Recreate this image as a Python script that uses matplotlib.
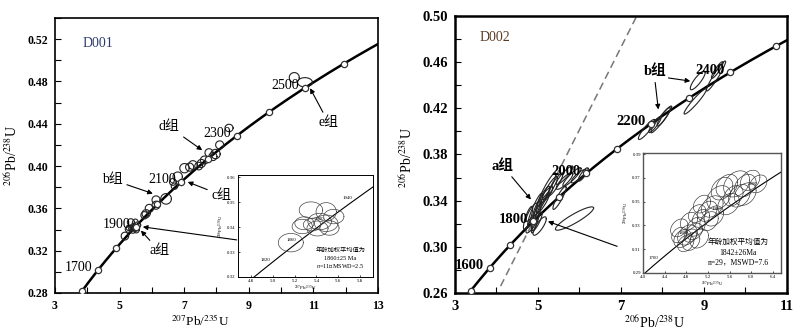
import numpy as np
import matplotlib
matplotlib.use('Agg')
import matplotlib.pyplot as plt
from matplotlib.ticker import MultipleLocator, FormatStrFormatter

plt.rcParams['font.family'] = ['Liberation Serif', 'Noto Sans CJK SC']
plt.rcParams['mathtext.fontset'] = 'stix'

# U decay constants (1/yr)
L238 = 1.55125e-10
L235 = 9.8485e-10

# ---- D001 -------------------------------------------------------------
d1_ticks = [1600, 1700, 1800, 1900, 2000, 2100, 2200, 2300, 2400, 2500, 2600]
d1_agelabels = [1700, 1900, 2100, 2300, 2500]
# spot ellipses, 207Pb/235U and 206Pb/238U (centre, half-width, half-height)
d1_x = [10.41, 10.74, 8.39, 8.10, 7.77, 7.97, 7.89, 7.63, 7.53, 7.27, 7.17,
        7.01, 6.80, 6.65, 6.44, 6.13, 6.13, 5.92, 5.82, 5.77, 6.70, 7.45]
d1_y = [0.4837, 0.4792, 0.436, 0.420, 0.4126, 0.4114, 0.409, 0.4057, 0.4025,
        0.401, 0.399, 0.398, 0.390, 0.385, 0.369, 0.368, 0.363, 0.360, 0.355,
        0.3535, 0.381, 0.400]
d1_sx = [0.155, 0.23, 0.125, 0.125, 0.125, 0.145, 0.125, 0.125, 0.125, 0.135,
         0.125, 0.145, 0.145, 0.105, 0.165, 0.125, 0.125, 0.125, 0.125, 0.11,
         0.10, 0.12]
d1_sy = [0.0047, 0.0044, 0.0035, 0.0038, 0.0038, 0.0044, 0.0038, 0.0038,
         0.0038, 0.0041, 0.0038, 0.0044, 0.0044, 0.0032, 0.005, 0.0038, 0.0038,
         0.0038, 0.0038, 0.0034, 0.003, 0.0036]
# group a (weighted mean 1860 Ma)
d1a_x = [5.165, 5.35, 5.49, 5.56, 5.43, 5.29, 5.27, 5.36, 5.49, 5.52, 5.41]
d1a_y = [0.3338, 0.3469, 0.3462, 0.3443, 0.3423, 0.3416, 0.3403, 0.3410,
         0.3416, 0.3397, 0.3395]
d1a_sx = [0.115, 0.108, 0.093, 0.093, 0.108, 0.088, 0.093, 0.080, 0.108,
          0.088, 0.097]
d1a_sy = [0.0037, 0.0033, 0.0037, 0.0029, 0.0033, 0.0026, 0.0029, 0.0025,
          0.0033, 0.0029, 0.0030]
d1_inset_ages = [1820, 1860, 1900, 1940]

# group labels: text, text position, arrow tip
d1_groups = ['e组', 'd组', 'b组', 'c组', 'a组']
d1_group_xy = [(11.47, 0.441), (6.54, 0.437), (4.78, 0.387), (8.15, 0.3725),
               (6.23, 0.320)]
d1_group_tip = [(10.90, 0.4736), (7.56, 0.415), (6.03, 0.374), (7.11, 0.385),
                (5.66, 0.339)]

# ---- D002 -------------------------------------------------------------
d2_ticks = [1500, 1600, 1700, 1800, 1900, 2000, 2100, 2200, 2300, 2400, 2500]
d2_agelabels = [1600, 1800, 2000, 2200, 2400]
d2_x = [8.85, 9.29, 9.32, 8.79, 7.97, 8.03, 7.62, 4.76, 4.96, 5.04, 4.93, 5.08,
        5.21, 4.87, 5.20, 5.29, 5.52, 5.64, 5.82, 5.98, 6.09, 5.42, 5.64, 5.88,
        4.85, 5.12, 4.98, 7.82]
d2_y = [0.4442, 0.448, 0.4532, 0.426, 0.4104, 0.4127, 0.4017, 0.325, 0.3265,
        0.318, 0.332, 0.3395, 0.3497, 0.3207, 0.345, 0.351, 0.3424, 0.357,
        0.3606, 0.3612, 0.3627, 0.354, 0.362, 0.3245, 0.330, 0.338, 0.322,
        0.406]
d2_sx = [0.18, 0.23, 0.14, 0.27, 0.25, 0.16, 0.20, 0.11, 0.12, 0.16, 0.18, 0.20,
         0.22, 0.16, 0.16, 0.18, 0.16, 0.20, 0.22, 0.18, 0.12, 0.18, 0.20, 0.46,
         0.14, 0.16, 0.12, 0.15]
d2_sy = [0.0081, 0.013, 0.0072, 0.011, 0.0116, 0.008, 0.0087, 0.010, 0.0145,
         0.008, 0.0145, 0.013, 0.0145, 0.0087, 0.0072, 0.010, 0.010, 0.0072,
         0.008, 0.0058, 0.0058, 0.010, 0.008, 0.0101, 0.008, 0.009, 0.008,
         0.007]
d2_rho = [0.85, 0.95, 0.9, 0.95, 0.95, 0.9, 0.9, 0.8, 0.85, 0.8, 0.9, 0.92,
          0.93, 0.85, 0.85, 0.9, 0.9, 0.85, 0.9, 0.85, 0.85, 0.9, 0.9, 0.9,
          0.85, 0.9, 0.85, 0.9]
# inset spots (n=29)
d2i_x = [4.82, 4.67, 4.98, 5.07, 5.19, 5.28, 5.40, 5.09, 5.46, 5.73, 5.89,
         5.98, 6.13, 5.89, 5.67, 5.58, 4.89, 4.73, 5.04, 4.85, 4.67, 4.95,
         4.79, 5.22, 5.31, 5.00, 5.78, 5.55, 4.88]
d2i_y = [0.322, 0.328, 0.329, 0.336, 0.342, 0.346, 0.3535, 0.348, 0.361, 0.365,
         0.3635, 0.368, 0.365, 0.3564, 0.355, 0.348, 0.3165, 0.319, 0.319,
         0.3336, 0.322, 0.325, 0.315, 0.3336, 0.338, 0.340, 0.355, 0.3635,
         0.3215]
d2i_sx = [0.18, 0.16, 0.17, 0.16, 0.18, 0.20, 0.22, 0.16, 0.20, 0.24, 0.20,
          0.18, 0.16, 0.20, 0.18, 0.20, 0.16, 0.16, 0.17, 0.16, 0.14, 0.15,
          0.15, 0.17, 0.18, 0.16, 0.20, 0.20, 0.12]
d2i_sy = [0.0085, 0.0075, 0.008, 0.0075, 0.0085, 0.009, 0.010, 0.0075, 0.0095,
          0.011, 0.0095, 0.0085, 0.0075, 0.0095, 0.0085, 0.009, 0.0075, 0.0075,
          0.008, 0.0075, 0.0065, 0.007, 0.007, 0.008, 0.0085, 0.0075, 0.0095,
          0.0095, 0.0055]
d2_inset_ages = [1700, 1800, 1900, 2000]
# reference line (dashed)
d2_line_x = [4.10, 7.38]
d2_line_y = [0.266, 0.500]

d2_a_xy, d2_a_tip = (4.15, 0.370), (4.83, 0.341)
d2_b_xy = (7.82, 0.452)
d2_b_tails = [(8.11, 0.4465), (7.82, 0.4436)]
d2_b_tips = [(8.67, 0.4436), (7.90, 0.419)]


def concordia(t_ma):
    t = np.asarray(t_ma, dtype=float) * 1e6
    return np.exp(L235 * t) - 1, np.exp(L238 * t) - 1


def ellipse(ax, cx, cy, sx, sy, rho=0.0, lw=0.8, color='#222222'):
    th = np.linspace(0, 2 * np.pi, 90)
    ex = cx + sx * np.cos(th)
    ey = cy + sy * (rho * np.cos(th) + np.sqrt(1 - rho ** 2) * np.sin(th))
    ax.plot(ex, ey, color=color, lw=lw, zorder=3)


def style_main(ax, lw, size, weight, xticks, yticks):
    for s in ax.spines.values():
        s.set_linewidth(lw)
    ax.set_xticks(xticks)
    ax.set_yticks(yticks)
    ax.xaxis.set_minor_locator(MultipleLocator(1))
    ax.yaxis.set_minor_locator(MultipleLocator(0.02))
    ax.xaxis.set_major_formatter(FormatStrFormatter('%d'))
    ax.yaxis.set_major_formatter(FormatStrFormatter('%.2f'))
    ax.tick_params(which='both', direction='in', length=4, width=0.8,
                   labelsize=size, pad=5)
    for lab in ax.get_xticklabels() + ax.get_yticklabels():
        lab.set_fontweight(weight)


def style_inset(ax, xticks, yticks):
    for s in ax.spines.values():
        s.set_linewidth(0.7)
    ax.set_xticks(xticks)
    ax.set_yticks(yticks)
    ax.xaxis.set_major_formatter(FormatStrFormatter('%.1f'))
    ax.yaxis.set_major_formatter(FormatStrFormatter('%.2f'))
    ax.tick_params(direction='in', length=1.5, width=0.5, labelsize=3.5, pad=1.5)


arrow = dict(arrowstyle='-|>', color='black', lw=0.8, mutation_scale=7,
             shrinkA=1, shrinkB=0)

fig = plt.figure(figsize=(8.06, 3.32), dpi=100)

# ================= D001 =================
ax1 = fig.add_axes([0.0682, 0.1175, 0.4007, 0.8283])
ax1.set_xlim(3, 13)
ax1.set_ylim(0.28, 0.54)

cx, cy = concordia(np.linspace(1600, 2750, 300))
ax1.plot(cx, cy, color='black', lw=1.8, zorder=2)
mx, my = concordia(d1_ticks)
ax1.plot(mx, my, 'o', ms=4.5, mfc='white', mec='#333333', mew=0.9, zorder=4)
for age in d1_agelabels:
    px, py = concordia(age)
    ax1.annotate(str(age), (px, py), xytext=(-4, 1.5), textcoords='offset points',
                 ha='right', va='center', fontsize=10, zorder=5)

for i in range(len(d1_x)):
    ellipse(ax1, d1_x[i], d1_y[i], d1_sx[i], d1_sy[i], lw=0.8)
for i in range(len(d1a_x)):
    ellipse(ax1, d1a_x[i], d1a_y[i], d1a_sx[i], d1a_sy[i], lw=0.8)

for name, txy, tip in zip(d1_groups, d1_group_xy, d1_group_tip):
    ax1.annotate(name, tip, xytext=txy, ha='center', va='center', fontsize=10,
                 arrowprops=arrow)
ax1.annotate('', (5.72, 0.3425), xytext=(8.67, 0.330), arrowprops=arrow)

ax1.text(4.32, 0.516, 'D001', fontsize=10, color='#2c3a6e', ha='center',
         va='center')
ax1.set_xlabel('$^{207}$Pb/$^{235}$U', fontsize=9.5)
ax1.xaxis.set_label_coords(0.45, -0.075)
ax1.set_ylabel('$^{206}$Pb/$^{238}$U', fontsize=10)
ax1.yaxis.set_label_coords(-0.108, 0.5)
style_main(ax1, 1.2, 8.5, 'bold', np.arange(3, 14, 2),
           np.arange(0.28, 0.53, 0.04))

# inset D001
in1 = fig.add_axes([238 / 806, 1 - 277 / 332, 135 / 806, 102 / 332])
in1.set_xlim(4.68, 5.92)
in1.set_ylim(0.32, 0.361)
ix, iy = concordia(np.linspace(1750, 2000, 200))
in1.plot(ix, iy, color='black', lw=0.8)
for age in d1_inset_ages:
    px, py = concordia(age)
    in1.annotate(str(age), (px, py), xytext=(-2, 1), textcoords='offset points',
                 ha='right', va='center', fontsize=3.5)
for i in range(len(d1a_x)):
    ellipse(in1, d1a_x[i], d1a_y[i], d1a_sx[i], d1a_sy[i], lw=0.5,
            color='#444444')
in1.text(0.76, 0.265, '年龄加权平均值为', transform=in1.transAxes,
         fontsize=4.5, ha='center', va='center')
in1.text(0.76, 0.185, '1860±25 Ma', transform=in1.transAxes,
         fontsize=4.5, ha='center', va='center')
in1.text(0.76, 0.10, '$n$=11，MSWD=2.5', transform=in1.transAxes,
         fontsize=4.5, ha='center', va='center')
in1.set_xlabel('$^{207}$Pb/$^{235}$U', fontsize=3.5, labelpad=0.5)
in1.set_ylabel('$^{206}$Pb/$^{238}$U', fontsize=3.5, labelpad=1)
style_inset(in1, np.arange(4.8, 5.85, 0.2), np.arange(0.32, 0.365, 0.01))

# ================= D002 =================
ax2 = fig.add_axes([0.5645, 0.1175, 0.4119, 0.8343])
ax2.set_xlim(3, 11)
ax2.set_ylim(0.26, 0.50)

cx, cy = concordia(np.linspace(1500, 2650, 300))
ax2.plot(cx, cy, color='black', lw=1.8, zorder=2)
ax2.plot(d2_line_x, d2_line_y, ls=(0, (5, 3)), color='#777777', lw=1.1,
         zorder=1)
mx, my = concordia(d2_ticks)
ax2.plot(mx, my, 'o', ms=4.5, mfc='white', mec='#333333', mew=0.9, zorder=4)
for age in d2_agelabels:
    px, py = concordia(age)
    ax2.annotate(str(age), (px, py), xytext=(-4, 1.5), textcoords='offset points',
                 ha='right', va='center', fontsize=10.5, fontweight='bold',
                 zorder=5)

for i in range(len(d2_x)):
    ellipse(ax2, d2_x[i], d2_y[i], d2_sx[i], d2_sy[i], d2_rho[i], lw=0.8)

ax2.annotate('a组', d2_a_tip, xytext=d2_a_xy, ha='center', va='center',
             fontsize=10.5, fontweight='bold', arrowprops=arrow)
ax2.text(d2_b_xy[0], d2_b_xy[1], 'b组', ha='center', va='center',
         fontsize=10.5, fontweight='bold')
for tail, tip in zip(d2_b_tails, d2_b_tips):
    ax2.annotate('', tip, xytext=tail, arrowprops=arrow)
ax2.annotate('', (5.24, 0.322), xytext=(6.94, 0.300), arrowprops=arrow)

ax2.text(3.95, 0.481, 'D002', fontsize=10, color='#5a3a22', ha='center',
         va='center')
ax2.set_xlabel('$^{206}$Pb/$^{238}$U', fontsize=10)
ax2.xaxis.set_label_coords(0.6, -0.075)
ax2.set_ylabel('$^{206}$Pb/$^{238}$U', fontsize=10)
ax2.yaxis.set_label_coords(-0.12, 0.49)
style_main(ax2, 1.8, 10.5, 'bold', np.arange(3, 12, 2),
           np.arange(0.26, 0.51, 0.04))

# inset D002
in2 = fig.add_axes([643 / 806, 1 - 273 / 332, 138 / 806, 120 / 332])
in2.set_xlim(4.0, 6.55)
in2.set_ylim(0.29, 0.391)
ix, iy = concordia(np.linspace(1600, 2100, 200))
in2.plot(ix, iy, color='black', lw=0.8)
for age in d2_inset_ages:
    px, py = concordia(age)
    in2.annotate(str(age), (px, py), xytext=(-2, 1), textcoords='offset points',
                 ha='right', va='center', fontsize=3.5)
for i in range(len(d2i_x)):
    ellipse(in2, d2i_x[i], d2i_y[i], d2i_sx[i], d2i_sy[i], 0.3, lw=0.45,
            color='#333333')
in2.text(0.69, 0.26, '年龄加权平均值为', transform=in2.transAxes,
         fontsize=5.5, ha='center', va='center')
in2.text(0.69, 0.17, '1842±26Ma', transform=in2.transAxes,
         fontsize=5.5, ha='center', va='center')
in2.text(0.69, 0.085, 'n=29，MSWD=7.6', transform=in2.transAxes,
         fontsize=5.5, ha='center', va='center')
in2.set_xlabel('$^{207}$Pb/$^{235}$U', fontsize=3.5, labelpad=0.5)
in2.set_ylabel('$^{206}$Pb/$^{238}$U', fontsize=3.5, labelpad=1)
style_inset(in2, np.arange(4.0, 6.45, 0.4), np.arange(0.29, 0.395, 0.02))
for s in in2.spines.values():
    s.set_color('#555555')
    s.set_linewidth(1.0)

fig.savefig('out.png', dpi=100)
